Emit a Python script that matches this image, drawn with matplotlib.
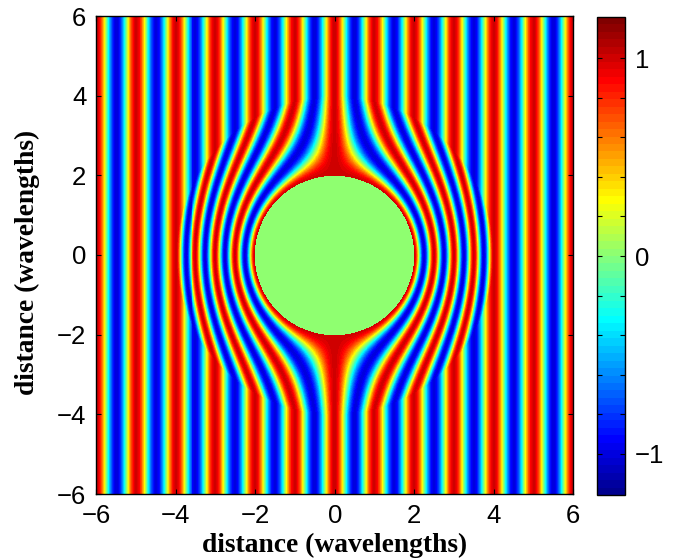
import numpy as np
import matplotlib
matplotlib.use('Agg')
import matplotlib.pyplot as plt
from matplotlib.colors import ListedColormap

# cloak geometry, in wavelengths
inner_radius = 2.0
outer_radius = 4.0
grid_points = 479
color_limits = [-1.21, 1.21]

axis_ticks = [-6, -4, -2, 0, 2, 4, 6]
bar_ticks = [-1.0, -0.8, -0.6, -0.4, -0.2, 0.0, 0.2, 0.4, 0.6, 0.8, 1.0]
bar_labels = ['\u22121', '', '', '', '', '0', '', '', '', '', '1']


def matlab_jet(n=64):
    # the older 64 step jet, which differs a little from matplotlib's
    t = (np.arange(n) + 1) / n
    r = np.clip(np.minimum(4 * t - 1.5, 4.5 - 4 * t), 0, 1)
    g = np.clip(np.minimum(4 * t - 0.5, 3.5 - 4 * t), 0, 1)
    b = np.clip(np.minimum(4 * t + 0.5, 2.5 - 4 * t), 0, 1)
    return ListedColormap(np.column_stack([r, g, b]))


# plane wave outside, squeezed into the shell, nothing in the hole
x = np.linspace(-6, 6, grid_points)
xx, yy = np.meshgrid(x, x)
rr = np.hypot(xx, yy)
scale = np.ones_like(rr)
shell = (rr >= inner_radius) & (rr < outer_radius)
scale[shell] = (rr[shell] - inner_radius) * outer_radius / (outer_radius - inner_radius) / rr[shell]
field = np.cos(2 * np.pi * xx * scale)
field[rr < inner_radius] = 0

fig = plt.figure(figsize=(6.78, 5.60), dpi=100)
ax = fig.add_axes([96.2 / 678, 66 / 560, 477 / 678, 478 / 560])
cax = fig.add_axes([597 / 678, 65 / 560, 28 / 678, 478 / 560])

mesh = ax.pcolormesh(xx, yy, field, cmap=matlab_jet(), vmin=color_limits[0], vmax=color_limits[1],
                     shading='nearest', rasterized=True)
ax.set_xlim(-6, 6)
ax.set_ylim(-6, 6)
ax.set_xticks(axis_ticks)
ax.set_yticks(axis_ticks)
ax.set_xticklabels([str(t).replace('-', '\u2212') for t in axis_ticks], family='Liberation Sans', fontsize=18.5)
ax.set_yticklabels([str(t).replace('-', '\u2212') for t in axis_ticks], family='Liberation Sans', fontsize=18.5)
ax.tick_params(direction='in', length=3.5, width=0.8, top=True, right=True)
ax.tick_params(axis='x', pad=7)
ax.tick_params(axis='y', pad=7)
ax.set_xlabel('distance (wavelengths)', family='Liberation Serif', fontweight='bold', fontsize=19.8, labelpad=4)
ax.set_ylabel('distance (wavelengths)', family='Liberation Serif', fontweight='bold', fontsize=19.8, labelpad=12, y=0.485)

bar = fig.colorbar(mesh, cax=cax)
bar.set_ticks(bar_ticks)
bar.set_ticklabels(bar_labels, family='Liberation Sans', fontsize=18.5)
bar.ax.tick_params(direction='in', length=3.5, width=0.8, left=True, right=True, pad=7)
bar.ax.minorticks_off()

for spine in ax.spines.values():
    spine.set_linewidth(1.0)
bar.outline.set_linewidth(1.0)

fig.savefig('out.png', dpi=100)
